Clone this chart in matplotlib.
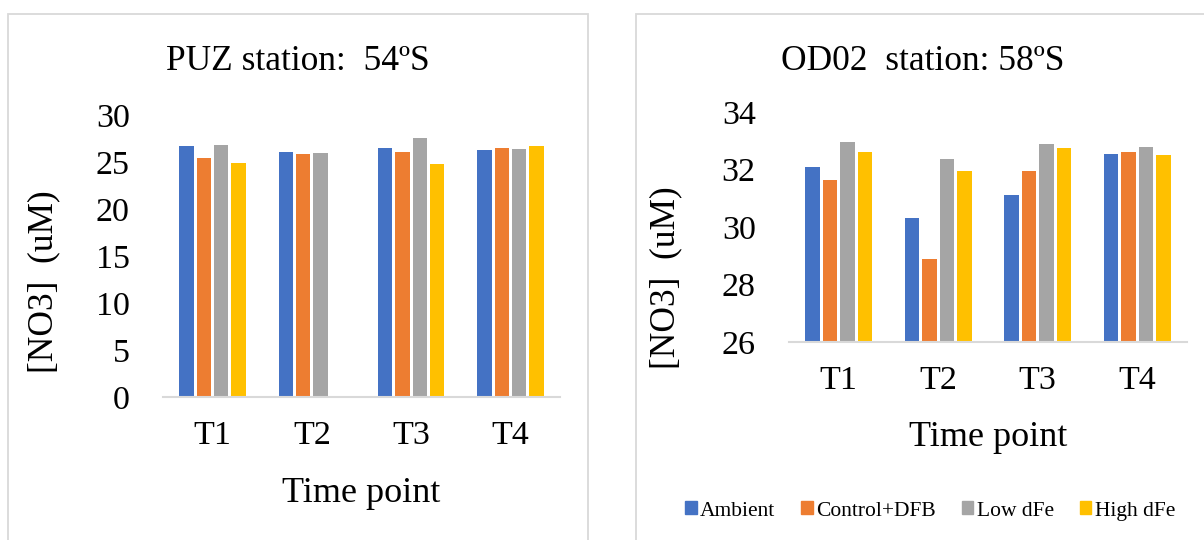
import numpy as np
import matplotlib
matplotlib.use("Agg")
import matplotlib.pyplot as plt
from matplotlib.patches import Rectangle, Patch

plt.rcParams['font.family'] = ['Liberation Serif', 'DejaVu Serif']

# nitrate concentration per time point, two stations
time_points = ['T1', 'T2', 'T3', 'T4']
treatments = ['Ambient', 'Control+DFB', 'Low dFe', 'High dFe']
colors = ['#4472C4', '#ED7D31', '#A5A5A5', '#FFC000']

puz_ambient = [26.7, 26.1, 26.5, 26.25]
puz_control = [25.4, 25.85, 26.1, 26.5]
puz_low = [26.8, 26.0, 27.5, 26.4]
puz_high = [24.9, np.nan, 24.75, 26.7]   # no T2 sample

od02_ambient = [32.08, 30.31, 31.12, 32.54]
od02_control = [31.63, 28.9, 31.95, 32.62]
od02_low = [32.94, 32.35, 32.9, 32.8]
od02_high = [32.62, 31.95, 32.76, 32.49]

W, H = 1204, 540
fig = plt.figure(figsize=(W / 100, H / 100), dpi=100)


def box(x0, y0, x1, y1):
    # pixel box (top-left origin) -> figure fraction rect
    return [x0 / W, 1 - y1 / H, (x1 - x0) / W, (y1 - y0) / H]


# light grey chart frames
for x0, x1 in [(8, 588), (636, 1230)]:
    r = box(x0, 14, x1, 560)
    fig.add_artist(Rectangle((r[0], r[1]), r[2], r[3], transform=fig.transFigure,
                             fill=False, edgecolor='#D9D9D9', lw=1.3, clip_on=False))

axis_grey = '#D9D9D9'
step = 0.1745
bw = 0.145


def draw_panel(ax, series, ylim, yticks):
    x = np.arange(len(time_points))
    for i, vals in enumerate(series):
        ax.bar(x + (i - 1.5) * step, vals, width=bw, color=colors[i], label=treatments[i])
    ax.set_xlim(-0.5, 3.5)
    ax.set_ylim(*ylim)
    ax.set_yticks(yticks)
    ax.set_xticks(x)
    ax.set_xticklabels(time_points)
    for s in ['top', 'right', 'left']:
        ax.spines[s].set_visible(False)
    ax.spines['bottom'].set_color(axis_grey)
    ax.spines['bottom'].set_linewidth(1.5)
    ax.tick_params(length=0, labelsize=24.5)
    ax.tick_params(axis='y', pad=24)
    ax.tick_params(axis='x', pad=17)
    ax.patch.set_visible(False)


ax1 = fig.add_axes(box(163, 115, 560, 397))
draw_panel(ax1, [puz_ambient, puz_control, puz_low, puz_high], (0, 30), range(0, 31, 5))

ax2 = fig.add_axes(box(789, 112, 1187, 342))
draw_panel(ax2, [od02_ambient, od02_control, od02_low, od02_high], (26, 34), range(26, 35, 2))

# titles and axis titles
fig.text(298 / W, 1 - 61 / H, 'PUZ station:  54ºS', ha='center', va='center', fontsize=25.5)
fig.text(923 / W, 1 - 61 / H, 'OD02  station: 58ºS', ha='center', va='center', fontsize=25.5)
fig.text(44 / W, 1 - 282 / H, '[NO3]  (uM)', rotation=90, ha='center', va='center', fontsize=25.5)
fig.text(666 / W, 1 - 278 / H, '[NO3]  (uM)', rotation=90, ha='center', va='center', fontsize=25.5)
fig.text(361 / W, 1 - 493 / H, 'Time point', ha='center', va='center', fontsize=26)
fig.text(988 / W, 1 - 438 / H, 'Time point', ha='center', va='center', fontsize=26)

handles = [Patch(color=c) for c in colors]
fig.legend(handles, treatments, loc='center', bbox_to_anchor=(930 / W, 1 - 511 / H),
           ncol=4, frameon=False, fontsize=15.5, handlelength=0.55, handleheight=0.55,
           handletextpad=0.15, columnspacing=1.2)

fig.savefig('out.png', dpi=100, facecolor='white')
